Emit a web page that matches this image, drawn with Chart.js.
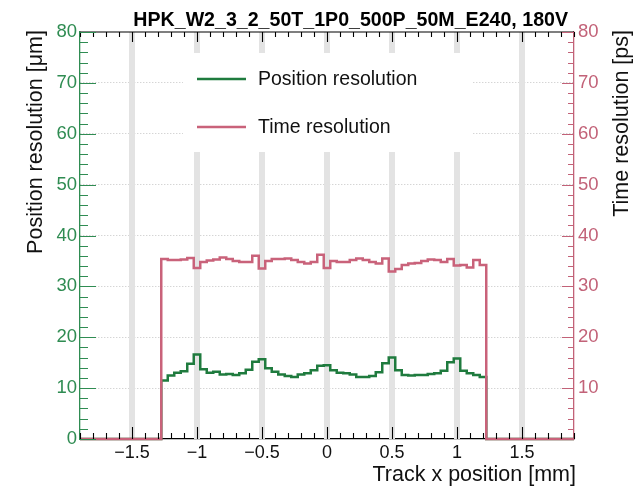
<!DOCTYPE html>
<html>
<head>
<meta charset="utf-8">
<script src="https://cdn.jsdelivr.net/npm/chart.js@4/dist/chart.umd.min.js"></script>
<style>
html,body{margin:0;padding:0;background:#fff;}
#wrap{width:634px;height:486px;}
</style>
</head>
<body>
<div id="wrap"><canvas id="c" width="634" height="486"></canvas></div>
<script>
// ---------- data ----------
const titleText = 'HPK_W2_3_2_50T_1P0_500P_50M_E240, 180V';
const xTitle = 'Track x position [mm]';
const yLeftTitle = 'Position resolution [\u03bcm]';
const yRightTitle = 'Time resolution [ps]';
const legendLabels = ['Position resolution', 'Time resolution'];

// histogram bin centres [mm], bin width 0.05 mm
const binCenters = [
  -1.25,-1.20,-1.15,-1.10,-1.05,-1.00,-0.95,-0.90,-0.85,-0.80,
  -0.75,-0.70,-0.65,-0.60,-0.55,-0.50,-0.45,-0.40,-0.35,-0.30,
  -0.25,-0.20,-0.15,-0.10,-0.05, 0.00, 0.05, 0.10, 0.15, 0.20,
   0.25, 0.30, 0.35, 0.40, 0.45, 0.50, 0.55, 0.60, 0.65, 0.70,
   0.75, 0.80, 0.85, 0.90, 0.95, 1.00, 1.05, 1.10, 1.15, 1.20
];
const binWidth = 0.05;

// position resolution [um]
const positionRes = [
  11.5,12.5,13.0,13.3,14.8,16.6,13.7,13.0,13.2,12.7,
  12.8,12.6,12.9,13.6,15.2,15.7,13.9,13.2,12.7,12.4,
  12.2,12.7,12.9,13.5,14.4,14.5,13.5,13.0,12.9,12.7,
  12.2,12.2,12.4,13.1,14.9,16.0,13.5,12.6,12.5,12.6,
  12.6,12.8,12.9,13.4,15.1,15.8,13.4,12.9,12.6,12.2
];

// time resolution [ps]
const timeRes = [
  35.4,35.2,35.2,35.3,35.6,33.6,34.8,35.1,35.3,35.7,
  35.4,35.0,34.8,34.8,36.0,33.5,35.0,35.4,35.4,35.5,
  35.2,34.8,34.5,34.8,36.2,33.6,35.0,34.8,34.8,35.2,
  35.5,35.2,34.8,34.5,35.5,32.9,33.4,34.2,34.5,34.6,
  35.0,35.3,35.2,34.8,35.4,34.1,34.2,33.7,35.2,34.2
];

const xRange = [-1.9, 1.9];
const xMajorTicks = [-1.5, -1, -0.5, 0, 0.5, 1, 1.5];
const yRange = [0, 80];
const yMajorTicks = [0, 10, 20, 30, 40, 50, 60, 70, 80];
const yRightLabelTicks = [10, 20, 30, 40, 50, 60, 70, 80];
const stripCenters = [-1.5, -1, -0.5, 0, 0.5, 1, 1.5];
const stripWidth = 0.046;

// ---------- styles ----------
const GREEN_LINE = '#1f7b3e';
const GREEN_AXIS = '#2f8c52';
const RED_LINE = '#c9627a';
const RED_AXIS = '#c26278';
const FONT = '"Liberation Sans", Arial, Helvetica, sans-serif';

function stepPoints(vals) {
  const pts = [{x: xRange[0], y: 0}];
  binCenters.forEach((c, i) => pts.push({x: c - binWidth / 2, y: vals[i]}));
  pts.push({x: binCenters[binCenters.length - 1] + binWidth / 2, y: 0});
  pts.push({x: xRange[1], y: 0});
  return pts;
}

function fmt(v) {
  if (v < 0) return '\u2212' + String(Math.abs(v));
  return String(v);
}

const rootStyle = {
  id: 'rootStyle',
  beforeDatasetsDraw(chart) {
    const {ctx, chartArea: a, scales} = chart;
    const xs = scales.x;
    ctx.save();
    ctx.fillStyle = '#e3e3e3';
    stripCenters.forEach(c => {
      const x1 = xs.getPixelForValue(c - stripWidth / 2);
      const x2 = xs.getPixelForValue(c + stripWidth / 2);
      ctx.fillRect(x1, a.top, x2 - x1, a.bottom - a.top);
    });
    // legend background
    ctx.fillStyle = '#ffffff';
    ctx.fillRect(183, 53, 289, 99);
    ctx.restore();
  },
  afterDatasetsDraw(chart) {
    const {ctx, chartArea: a, scales} = chart;
    const xs = scales.x, yl = scales.y, yr = scales.y2;
    ctx.save();
    // top frame line
    ctx.strokeStyle = '#000';
    ctx.lineWidth = 1.2;
    ctx.beginPath();
    ctx.moveTo(a.left, a.top);
    ctx.lineTo(a.right, a.top);
    ctx.stroke();

    // x ticks (bottom & top, inward)
    ctx.lineWidth = 1.1;
    ctx.strokeStyle = '#000';
    ctx.beginPath();
    for (let k = -19; k <= 19; k++) {
      const v = k / 10;
      const px = Math.round(xs.getPixelForValue(v)) + 0.5;
      const major = (k % 5 === 0);
      const lb = major ? 12 : 6;
      const lt = major ? 10 : 5;
      ctx.moveTo(px, a.bottom);
      ctx.lineTo(px, a.bottom - lb);
      ctx.moveTo(px, a.top);
      ctx.lineTo(px, a.top + lt);
    }
    ctx.stroke();

    // left y ticks
    ctx.strokeStyle = GREEN_AXIS;
    ctx.beginPath();
    for (let v = yRange[0]; v <= yRange[1]; v += 2) {
      const py = Math.round(yl.getPixelForValue(v)) + 0.5;
      const l = (v % 10 === 0) ? 16 : 8;
      ctx.moveTo(a.left, py);
      ctx.lineTo(a.left + l, py);
    }
    ctx.stroke();

    // right y ticks
    ctx.strokeStyle = RED_AXIS;
    ctx.beginPath();
    for (let v = yRange[0]; v <= yRange[1]; v += 2) {
      const py = Math.round(yr.getPixelForValue(v)) + 0.5;
      const l = (v % 10 === 0) ? 12 : 6;
      ctx.moveTo(a.right, py);
      ctx.lineTo(a.right - l, py);
    }
    ctx.stroke();

    // legend
    const ds = chart.data.datasets;
    const rows = [79, 127];
    ctx.lineWidth = 2.5;
    ds.forEach((d, i) => {
      ctx.strokeStyle = d.borderColor;
      ctx.beginPath();
      ctx.moveTo(197, rows[i]);
      ctx.lineTo(246, rows[i]);
      ctx.stroke();
      ctx.fillStyle = '#111';
      ctx.font = '19.5px ' + FONT;
      ctx.textAlign = 'left';
      ctx.textBaseline = 'middle';
      ctx.fillText(d.label, 258, rows[i] + 1);
    });

    // title
    ctx.fillStyle = '#000';
    ctx.font = 'bold 19.6px ' + FONT;
    ctx.textAlign = 'right';
    ctx.textBaseline = 'alphabetic';
    ctx.fillText(titleText, 568, 26);

    // x title
    ctx.fillStyle = '#111';
    ctx.font = '21.5px ' + FONT;
    ctx.textAlign = 'right';
    ctx.fillText(xTitle, 576, 481);

    // left y title
    ctx.save();
    ctx.translate(42, 30);
    ctx.rotate(-Math.PI / 2);
    ctx.textAlign = 'right';
    ctx.textBaseline = 'alphabetic';
    ctx.fillText(yLeftTitle, 0, 0);
    ctx.restore();

    // right y title
    ctx.save();
    ctx.translate(628, 30);
    ctx.rotate(-Math.PI / 2);
    ctx.textAlign = 'right';
    ctx.textBaseline = 'alphabetic';
    ctx.fillText(yRightTitle, 0, 0);
    ctx.restore();

    ctx.restore();
  }
};

new Chart(document.getElementById('c'), {
  type: 'line',
  data: {
    datasets: [
      {
        label: legendLabels[0],
        data: stepPoints(positionRes),
        borderColor: GREEN_LINE,
        borderWidth: 2.5,
        pointRadius: 0,
        stepped: 'before',
        yAxisID: 'y',
        order: 1,
        clip: false
      },
      {
        label: legendLabels[1],
        data: stepPoints(timeRes),
        borderColor: RED_LINE,
        borderWidth: 2.5,
        pointRadius: 0,
        stepped: 'before',
        yAxisID: 'y2',
        order: 0,
        clip: false
      }
    ]
  },
  options: {
    responsive: false,
    animation: false,
    devicePixelRatio: 1,
    layout: {padding: {top: 32, left: 0, right: 0, bottom: 0}},
    plugins: {
      legend: {display: false},
      tooltip: {enabled: false},
      title: {display: false}
    },
    scales: {
      x: {
        type: 'linear',
        min: xRange[0],
        max: xRange[1],
        afterBuildTicks: s => { s.ticks = xMajorTicks.map(v => ({value: v})); },
        afterFit: s => { s.height = 47; },
        grid: {drawOnChartArea: false, drawTicks: false},
        border: {display: true, color: '#000', width: 1.2},
        ticks: {
          color: '#111',
          font: {family: FONT, size: 18},
          padding: 3,
          maxRotation: 0,
          autoSkip: false,
          callback: v => fmt(v)
        }
      },
      y: {
        type: 'linear',
        position: 'left',
        min: yRange[0],
        max: yRange[1],
        afterBuildTicks: s => { s.ticks = yMajorTicks.map(v => ({value: v})); },
        afterFit: s => { s.width = 80; },
        grid: {
          drawTicks: false,
          lineWidth: 1,
          color: c => (c.tick && c.tick.value > yRange[0] && c.tick.value < yRange[1]) ? '#c4c4c4' : 'rgba(0,0,0,0)'
        },
        border: {display: true, color: GREEN_AXIS, width: 1.3, dash: [1, 2]},
        ticks: {
          color: GREEN_AXIS,
          font: {family: FONT, size: 18.5},
          padding: 3,
          autoSkip: false,
          callback: v => fmt(v)
        }
      },
      y2: {
        type: 'linear',
        position: 'right',
        min: yRange[0],
        max: yRange[1],
        afterBuildTicks: s => { s.ticks = yRightLabelTicks.map(v => ({value: v})); },
        afterFit: s => { s.width = 60; },
        grid: {drawOnChartArea: false, drawTicks: false},
        border: {display: true, color: RED_AXIS, width: 1.3},
        ticks: {
          color: RED_AXIS,
          font: {family: FONT, size: 18.5},
          padding: 4,
          autoSkip: false,
          callback: v => fmt(v)
        }
      }
    }
  },
  plugins: [rootStyle]
});
</script>
</body>
</html>
